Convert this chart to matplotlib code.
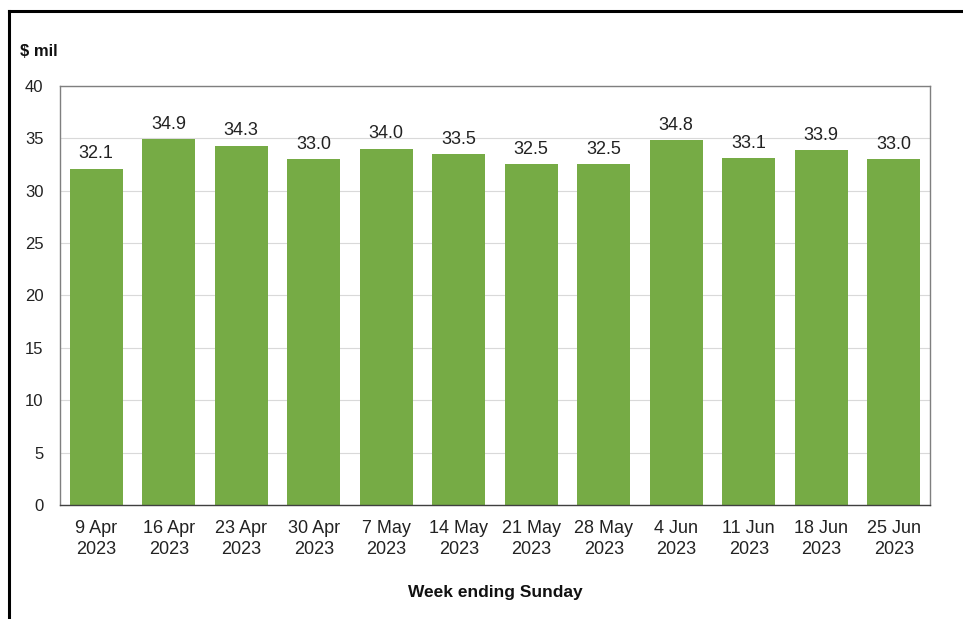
import matplotlib.pyplot as plt
from matplotlib.lines import Line2D

# Weekly values, $ million
weeks = ['9 Apr\n2023', '16 Apr\n2023', '23 Apr\n2023', '30 Apr\n2023',
         '7 May\n2023', '14 May\n2023', '21 May\n2023', '28 May\n2023',
         '4 Jun\n2023', '11 Jun\n2023', '18 Jun\n2023', '25 Jun\n2023']
values = [32.1, 34.9, 34.3, 33.0, 34.0, 33.5, 32.5, 32.5, 34.8, 33.1, 33.9, 33.0]

plt.rcParams['font.family'] = ['Liberation Sans', 'DejaVu Sans']

fig = plt.figure(figsize=(9.63, 6.19), dpi=100)
ax = fig.add_axes([0.0623, 0.1842, 0.9034, 0.677])

x = range(len(values))
bars = ax.bar(x, values, width=0.73, color='#76AB45', zorder=2)

for b, v in zip(bars, values):
    ax.text(b.get_x() + b.get_width() / 2, v + 0.6, f'{v:.1f}',
            ha='center', va='bottom', fontsize=13, color='#222222')

ax.set_xlim(-0.5, len(values) - 0.5)
ax.set_ylim(0, 40)
ax.set_yticks(range(0, 41, 5))
ax.set_xticks(list(x))
ax.set_xticklabels(weeks, fontsize=13, color='#222222', linespacing=1.3)
ax.tick_params(axis='y', labelsize=12, length=0, pad=12, colors='#222222')
ax.tick_params(axis='x', length=0, pad=11)
ax.grid(axis='y', color='#d9d9d9', linewidth=0.8, zorder=0)

for s in ax.spines.values():
    s.set_color('#7f7f7f')
    s.set_linewidth(1.0)
ax.spines['bottom'].set_color('#404040')

ax.set_xlabel('Week ending Sunday', fontsize=12.5, fontweight='bold',
              labelpad=19, color='#111111')
fig.text(0.021, 0.917, '$ mil', fontsize=12, fontweight='bold',
         ha='left', va='center', color='#111111')

# outer frame on the top and left edges
fig.add_artist(Line2D([0.0093, 0.0093], [0.0, 0.982], color='black',
                      linewidth=2.2, transform=fig.transFigure))
fig.add_artist(Line2D([0.0093, 1.0], [0.982, 0.982], color='black',
                      linewidth=2.2, transform=fig.transFigure))

fig.savefig('out.png', dpi=100)
